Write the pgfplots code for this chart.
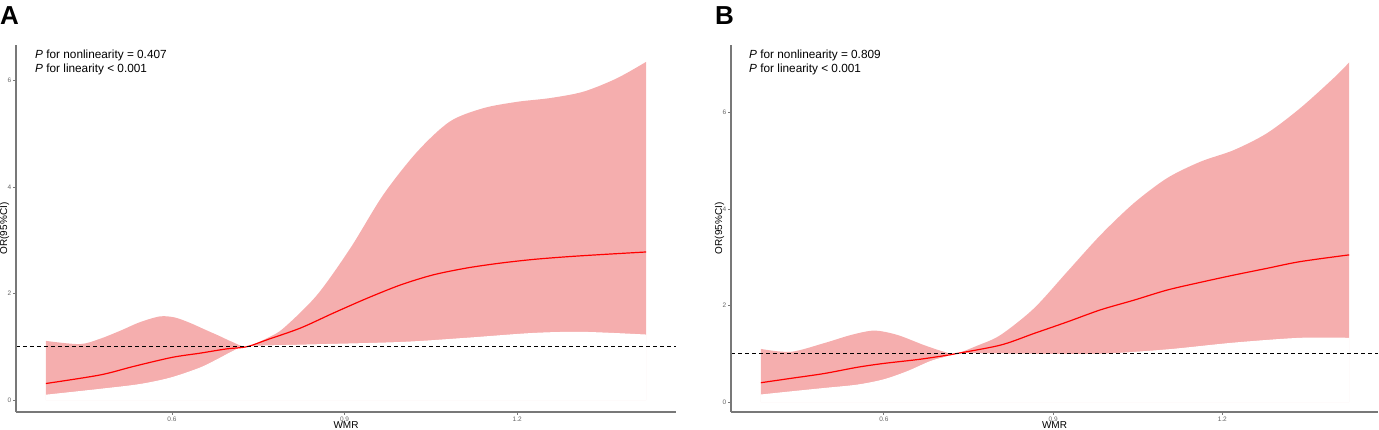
\documentclass[border=0pt]{standalone}
\usepackage{fontspec}
\setmainfont{Liberation Sans}
\usepackage{pgfplots}
\pgfplotsset{compat=1.18}
\definecolor{band}{RGB}{245,174,174}
\definecolor{axgray}{RGB}{120,120,120}
\definecolor{tickgray}{RGB}{100,100,100}

\pgfplotstableread{
x y
0.381 1.11
0.440 1.05
0.475 1.15
0.510 1.30
0.544 1.46
0.579 1.57
0.605 1.55
0.631 1.45
0.660 1.31
0.683 1.20
0.705 1.09
0.730 1.00
0.765 1.16
0.794 1.35
0.852 1.97
0.910 2.85
0.967 3.85
1.026 4.66
1.083 5.23
1.141 5.48
1.200 5.60
1.257 5.67
1.315 5.79
1.373 6.04
1.424 6.35
}\upA

\pgfplotstableread{
x y
0.381 0.31
0.475 0.47
0.533 0.63
0.600 0.80
0.649 0.88
0.695 0.96
0.730 1.00
0.765 1.13
0.823 1.35
0.880 1.63
0.939 1.91
0.997 2.16
1.054 2.35
1.113 2.48
1.170 2.57
1.228 2.64
1.286 2.69
1.344 2.73
1.424 2.78
}\midA

\pgfplotstableread{
x y
0.381 0.09
0.475 0.20
0.544 0.29
0.597 0.41
0.649 0.60
0.683 0.78
0.706 0.91
0.730 1.00
0.823 1.03
0.997 1.08
1.113 1.16
1.228 1.25
1.315 1.27
1.424 1.22
}\loA

\pgfplotstableread{
x y
0.382 1.10
0.435 1.04
0.494 1.22
0.542 1.39
0.583 1.48
0.624 1.39
0.671 1.18
0.707 1.04
0.727 1.00
0.766 1.17
0.807 1.39
0.866 1.94
0.925 2.70
0.984 3.46
1.043 4.12
1.102 4.64
1.161 4.98
1.220 5.22
1.279 5.57
1.338 6.09
1.397 6.71
1.425 7.04
}\upB

\pgfplotstableread{
x y
0.382 0.40
0.435 0.49
0.494 0.59
0.553 0.72
0.600 0.80
0.660 0.88
0.707 0.96
0.727 1.00
0.807 1.18
0.866 1.42
0.925 1.66
0.984 1.91
1.043 2.11
1.102 2.32
1.161 2.48
1.220 2.63
1.279 2.77
1.338 2.91
1.425 3.05
}\midB

\pgfplotstableread{
x y
0.382 0.145
0.435 0.21
0.494 0.28
0.553 0.35
0.600 0.46
0.642 0.63
0.683 0.84
0.713 0.94
0.727 1.00
0.866 0.99
0.984 0.99
1.102 1.08
1.220 1.22
1.338 1.32
1.425 1.32
}\loB

\pgfplotsset{
  orstyle/.style={
    scale only axis, height=367pt,
    xmin=0.329, xmax=1.476,
    axis on top,
    axis x line*=bottom, axis y line*=left,
    axis line style={draw=axgray, line width=1.1pt},
    tick style={draw=axgray, line width=0.8pt},
    tick align=outside, major tick length=3pt,
    xtick={0.6,0.9,1.2}, ytick={0,2,4,6},
    ticklabel style={font=\fontsize{6.5}{7}\selectfont, text=tickgray, inner sep=1.5pt},
    /pgf/number format/assume math mode=true,
    xlabel={WMR}, ylabel={OR(95\%CI)},
    label style={font=\fontsize{8.5}{9}\selectfont, text=black!80, inner sep=0pt},
    every axis x label/.style={at={(axis description cs:0.5,0)}, anchor=center, yshift=-13.5pt},
    every axis y label/.style={at={(axis description cs:0,0.5)}, rotate=90, anchor=center, yshift=11.5pt},
  }
}

\begin{document}
\begin{tikzpicture}
\useasboundingbox (0pt,0pt) rectangle (1379pt,430pt);

\begin{axis}[orstyle, width=660pt, at={(16pt,18pt)}, anchor=south west,
  ymin=-0.225, ymax=6.667]
  \addplot[fill=band, draw=none, smooth] table {\upA} \closedcycle;
  \addplot[fill=white, draw=white, line width=1pt, smooth] table {\loA} \closedcycle;
  \addplot[red, line width=1.2pt, smooth] table {\midA};
  \addplot[black, line width=1.1pt, dash pattern=on 4pt off 3pt] coordinates {(0.329,1) (1.476,1)};
\end{axis}

\begin{axis}[orstyle, width=647pt, at={(731pt,18pt)}, anchor=south west,
  ymin=-0.207, ymax=7.40]
  \addplot[fill=band, draw=none, smooth] table {\upB} \closedcycle;
  \addplot[fill=white, draw=white, line width=1pt, smooth] table {\loB} \closedcycle;
  \addplot[red, line width=1.2pt, smooth] table {\midB};
  \addplot[black, line width=1.1pt, dash pattern=on 4pt off 3pt] coordinates {(0.329,1) (1.476,1)};
\end{axis}

\node[anchor=north west, inner sep=0pt, font=\bfseries\fontsize{26}{26}\selectfont] at (0pt,424pt) {A};
\node[anchor=north west, inner sep=0pt, font=\bfseries\fontsize{26}{26}\selectfont] at (715pt,424pt) {B};

\node[anchor=base west, inner sep=0pt, font=\fontsize{11.8}{14}\selectfont] at (35pt,371.7pt)
  {\textit{P} for nonlinearity = 0.407};
\node[anchor=base west, inner sep=0pt, font=\fontsize{11.8}{14}\selectfont] at (35pt,357.7pt)
  {\textit{P} for linearity < 0.001};
\node[anchor=base west, inner sep=0pt, font=\fontsize{11.8}{14}\selectfont] at (749pt,371.7pt)
  {\textit{P} for nonlinearity = 0.809};
\node[anchor=base west, inner sep=0pt, font=\fontsize{11.8}{14}\selectfont] at (749pt,357.7pt)
  {\textit{P} for linearity < 0.001};
\end{tikzpicture}
\end{document}
